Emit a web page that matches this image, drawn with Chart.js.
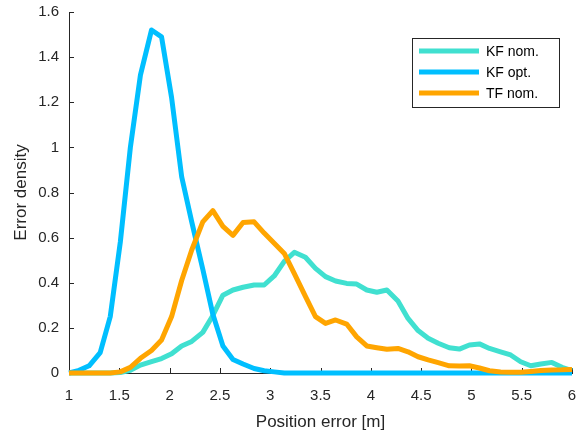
<!DOCTYPE html>
<html>
<head>
<meta charset="utf-8">
<script src="https://cdn.jsdelivr.net/npm/chart.js@4"></script>
<style>
  html, body { margin: 0; padding: 0; background: #fff; }
  #wrap { width: 577px; height: 435px; position: relative; }
</style>
</head>
<body>
<div id="wrap"><canvas id="c" width="577" height="435"></canvas></div>
<script>
const seriesNames = ["KF nom.", "KF opt.", "TF nom."];
const seriesColors = ["#40E0D0", "#00BFFF", "#FFA500"];

const xs = [1.00,1.10,1.20,1.31,1.41,1.51,1.61,1.71,1.82,1.92,
            2.02,2.12,2.22,2.33,2.43,2.53,2.63,2.73,2.84,2.94,
            3.04,3.14,3.24,3.35,3.45,3.55,3.65,3.76,3.86,3.96,
            4.06,4.16,4.27,4.37,4.47,4.57,4.67,4.78,4.88,4.98,
            5.08,5.18,5.29,5.39,5.49,5.59,5.69,5.80,5.90,6.00];

const kfNom = [0,0,0,0,0,0.002,0.012,0.035,0.05,0.064,
               0.085,0.12,0.14,0.18,0.255,0.345,0.368,0.38,0.39,0.39,
               0.43,0.495,0.535,0.513,0.464,0.427,0.408,0.397,0.394,0.368,
               0.358,0.368,0.319,0.242,0.188,0.154,0.132,0.112,0.106,0.124,
               0.129,0.109,0.094,0.08,0.05,0.032,0.04,0.047,0.025,0.01];

const kfOpt = [0,0.012,0.032,0.09,0.25,0.58,1.0,1.32,1.52,1.49,
               1.22,0.87,0.67,0.46,0.26,0.12,0.06,0.04,0.02,0.01,
               0.005,0,0,0,0,0,0,0,0,0,
               0,0,0,0,0,0,0,0,0,0,
               0,0,0,0,0,0,0,0,0,0];

const tfNom = [0,0,0,0,0,0.005,0.025,0.065,0.10,0.146,
               0.25,0.41,0.545,0.67,0.72,0.65,0.61,0.667,0.67,0.62,
               0.575,0.53,0.44,0.34,0.25,0.22,0.235,0.217,0.16,0.12,
               0.112,0.105,0.109,0.094,0.072,0.058,0.046,0.032,0.031,0.032,
               0.022,0.01,0.004,0.003,0.003,0.007,0.011,0.013,0.014,0.016];

const xTickLabels = ["1","1.5","2","2.5","3","3.5","4","4.5","5","5.5","6"];
const yTickLabels = ["0","0.2","0.4","0.6","0.8","1","1.2","1.4","1.6"];

const axisColor = "#262626";
Chart.defaults.font.family = "'Liberation Sans', Arial, Helvetica, sans-serif";

const allSeries = [kfNom, kfOpt, tfNom];
const datasets = allSeries.map((vals, i) => ({
  label: seriesNames[i],
  data: xs.map((x, j) => ({ x: x, y: vals[j] })),
  borderColor: seriesColors[i],
  backgroundColor: seriesColors[i],
  borderWidth: 5,
  pointRadius: 0,
  tension: 0,
  fill: false,
  borderJoinStyle: 'round',
  borderCapStyle: 'butt',
  order: 3 - i,
  clip: 6
}));

const inwardTicks = {
  id: 'inwardTicks',
  beforeDatasetsDraw(chart) {
    const ctx = chart.ctx;
    const xS = chart.scales.x, yS = chart.scales.y;
    const a = chart.chartArea;
    ctx.save();
    ctx.strokeStyle = axisColor;
    ctx.lineWidth = 1;
    ctx.beginPath();
    xS.ticks.forEach(t => {
      const px = Math.round(xS.getPixelForValue(t.value)) + 0.5;
      ctx.moveTo(px, a.bottom);
      ctx.lineTo(px, a.bottom - 5);
    });
    yS.ticks.forEach(t => {
      const py = Math.round(yS.getPixelForValue(t.value)) + 0.5;
      ctx.moveTo(a.left, py);
      ctx.lineTo(a.left + 5, py);
    });
    ctx.stroke();
    ctx.restore();
  }
};

const boxLegend = {
  id: 'boxLegend',
  afterDatasetsDraw(chart) {
    const ctx = chart.ctx;
    const bx = 412, by = 38, bw = 147, bh = 69;
    ctx.save();
    ctx.fillStyle = '#fff';
    ctx.fillRect(bx, by, bw, bh);
    ctx.strokeStyle = axisColor;
    ctx.lineWidth = 1;
    ctx.strokeRect(bx + 0.5, by + 0.5, bw, bh);
    ctx.font = "14px 'Liberation Sans', Arial, sans-serif";
    ctx.textBaseline = 'middle';
    ctx.fillStyle = '#000';
    chart.data.datasets.forEach((ds, i) => {
      const ly = by + 13 + i * 21;
      ctx.strokeStyle = ds.borderColor;
      ctx.lineWidth = 5;
      ctx.beginPath();
      ctx.moveTo(bx + 7, ly);
      ctx.lineTo(bx + 67, ly);
      ctx.stroke();
      ctx.fillText(ds.label, bx + 74, ly + 1);
    });
    ctx.restore();
  }
};

new Chart(document.getElementById('c'), {
  type: 'line',
  data: { datasets: datasets },
  options: {
    responsive: false,
    animation: false,
    events: [],
    layout: { padding: { top: 12, right: 5, left: 0, bottom: 0 } },
    plugins: { legend: { display: false }, tooltip: { enabled: false } },
    scales: {
      x: {
        type: 'linear',
        min: 1, max: 6,
        afterFit(s) { s.height = 62; s.paddingLeft = 0; s.paddingRight = 0; },
        grid: { display: false, drawTicks: false },
        border: { display: true, color: axisColor, width: 1 },
        ticks: {
          stepSize: 0.5,
          padding: 14,
          color: axisColor,
          font: { size: 15 },
          maxRotation: 0,
          autoSkip: false,
          callback(v) {
            const idx = Math.round((v - 1) / 0.5);
            return xTickLabels[idx];
          }
        },
        title: {
          display: true,
          text: 'Position error [m]',
          color: axisColor,
          font: { size: 17 },
          padding: { top: 0, bottom: 2 }
        }
      },
      y: {
        type: 'linear',
        min: 0, max: 1.6,
        afterFit(s) { s.width = 69; s.paddingTop = 0; s.paddingBottom = 0; },
        grid: { display: false, drawTicks: false },
        border: { display: true, color: axisColor, width: 1 },
        ticks: {
          stepSize: 0.2,
          padding: 10,
          color: axisColor,
          font: { size: 15 },
          autoSkip: false,
          callback(v) {
            const idx = Math.round(v / 0.2);
            return yTickLabels[idx];
          }
        },
        title: {
          display: true,
          text: 'Error density',
          color: axisColor,
          font: { size: 17 },
          padding: { top: 11, bottom: 0 }
        }
      }
    }
  },
  plugins: [inwardTicks, boxLegend]
});
</script>
</body>
</html>
